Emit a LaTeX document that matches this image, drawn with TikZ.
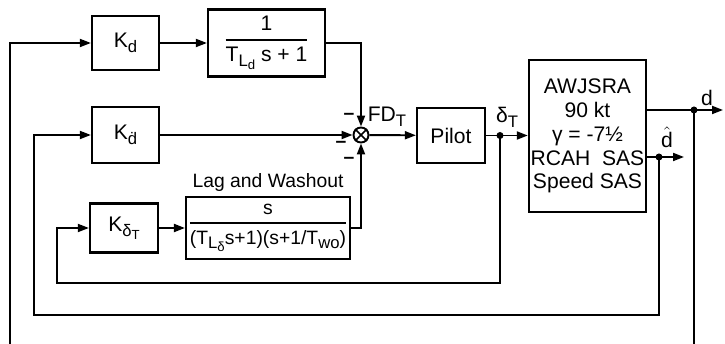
\documentclass[tikz,border=0pt]{standalone}
\usepackage{amsmath}
\usepackage{fontspec}
\setmainfont{Liberation Sans}
\usetikzlibrary{
    positioning,
    arrows.meta,
    calc,
}
\newcommand{\blockfrac}[2]{$\genfrac{}{}{1.2pt}{0}{\text{#1}}{\text{#2}}$}
\newcommand{\lowsub}[1]{\raisebox{-0.45ex}{\fontsize{9.5}{10}\selectfont #1}}
\newcommand{\lowsubsub}[1]{\raisebox{-0.35ex}{\fontsize{7.5}{8}\selectfont #1}}

\begin{document}
\begin{tikzpicture}[
    x=0.02cm, y=-0.02cm,
    font=\fontsize{12}{13.6}\selectfont,
    box/.style={rectangle, draw, line width=1.3pt, inner sep=1pt, align=center},
    arrow/.style={-{Triangle[length=2.2mm, width=1.6mm]}, line width=1.1pt},
    dot/.style={circle, fill, inner sep=0pt, minimum size=1.4mm},
    sign/.style={inner sep=0pt, font=\fontsize{11}{12}\selectfont\bfseries},
]
    \useasboundingbox (0,0) rectangle (725,344);
    \clip (0,0) rectangle (725,344);

    % Outer loop blocks
    \node[box, minimum width=1.34cm, minimum height=1.08cm] (kd) at (125.5,43) {K\lowsub{d}};
    \node[box, minimum width=2.34cm, minimum height=1.34cm] (lagd) at (266.5,43)
        {\blockfrac{1}{T\lowsub{L\lowsubsub{d}} s + 1}};
    \node[box, minimum width=1.34cm, minimum height=1.12cm] (kddot) at (125.5,135) {K\lowsub{\.d}};

    % Lag and washout
    \node[box, minimum width=1.36cm, minimum height=0.98cm] (kdelta) at (124,228)
        {K\lowsub{δ\lowsubsub{T}}};
    \node[box, minimum width=3.2cm, minimum height=1.24cm, font=\fontsize{11}{12}\selectfont] (wash) at (268,228)
        {\blockfrac{s}{(T\lowsub{L\lowsubsub{δ}}s+1)(s+1/T\lowsub{wo})}};
    \node[font=\fontsize{11}{12}\selectfont] (washlbl) at (268,183) {Lag and Washout};

    % Summing junction
    \node[circle, draw, line width=1.1pt, minimum size=0.3cm, inner sep=0pt] (sum) at (361,135) {};
    \draw[line width=1pt] (sum.north east) -- (sum.south west);
    \draw[line width=1pt] (sum.north west) -- (sum.south east);
    \node[sign] (mtop) at (349,116) {--};
    \node[sign] (mleft) at (341,144) {--};
    \node[sign] (mbot) at (349,160) {--};

    % Pilot and vehicle
    \node[box, minimum width=1.36cm, minimum height=1.1cm] (pilot) at (451,135.5) {Pilot};
    \node[box, minimum width=2.18cm, minimum height=3.04cm] (plant) at (587.5,136)
        {AWJSRA\\90 kt\\γ = -7½\\RCAH\ \ SAS\\Speed SAS};

    % Branch points and ends
    \coordinate (dtbr) at (500,135.5);
    \coordinate (dhbr) at (659,157);
    \coordinate (dbr) at (694,110);
    \coordinate (dhout) at (684,157);
    \coordinate (dout) at (723,110);
    \coordinate (innerL) at (57,283);
    \coordinate (midL) at (34,315);
    \coordinate (outL) at (10,352);

    % Forward path
    \draw[arrow] (kd) -- (lagd);
    \draw[arrow] (lagd.east) -| (sum.north);
    \draw[arrow] (kddot) -- (sum.west);
    \draw[arrow] (kdelta) -- (wash);
    \draw[arrow] (wash.east) -| (sum.south);
    \draw[arrow] (sum) -- (pilot);
    \draw[arrow] (pilot.east) -- (plant.west |- pilot.east);
    \node (fdt) at (387,117) {FD\lowsub{T}};
    \node (dt) at (507,117) {δ\lowsub{T}};

    % Outputs
    \draw[arrow] (plant.east |- dout) -- (dout);
    \draw[arrow] (plant.east |- dhout) -- (dhout);
    \node (dlbl) at (707,98) {d};
    \node[inner sep=1pt] (dhlbl) at (667,137) {$\hat{\text{d}}$};

    % Feedback loops
    \node[dot] at (dtbr) {};
    \node[dot] at (dhbr) {};
    \node[dot] at (dbr) {};
    \draw[arrow] (dtbr) |- (innerL) |- (kdelta.west);
    \draw[arrow] (dhbr) |- (midL) |- (kddot.west);
    \draw[arrow] (dbr) |- (outL) |- (kd.west);
\end{tikzpicture}
\end{document}
